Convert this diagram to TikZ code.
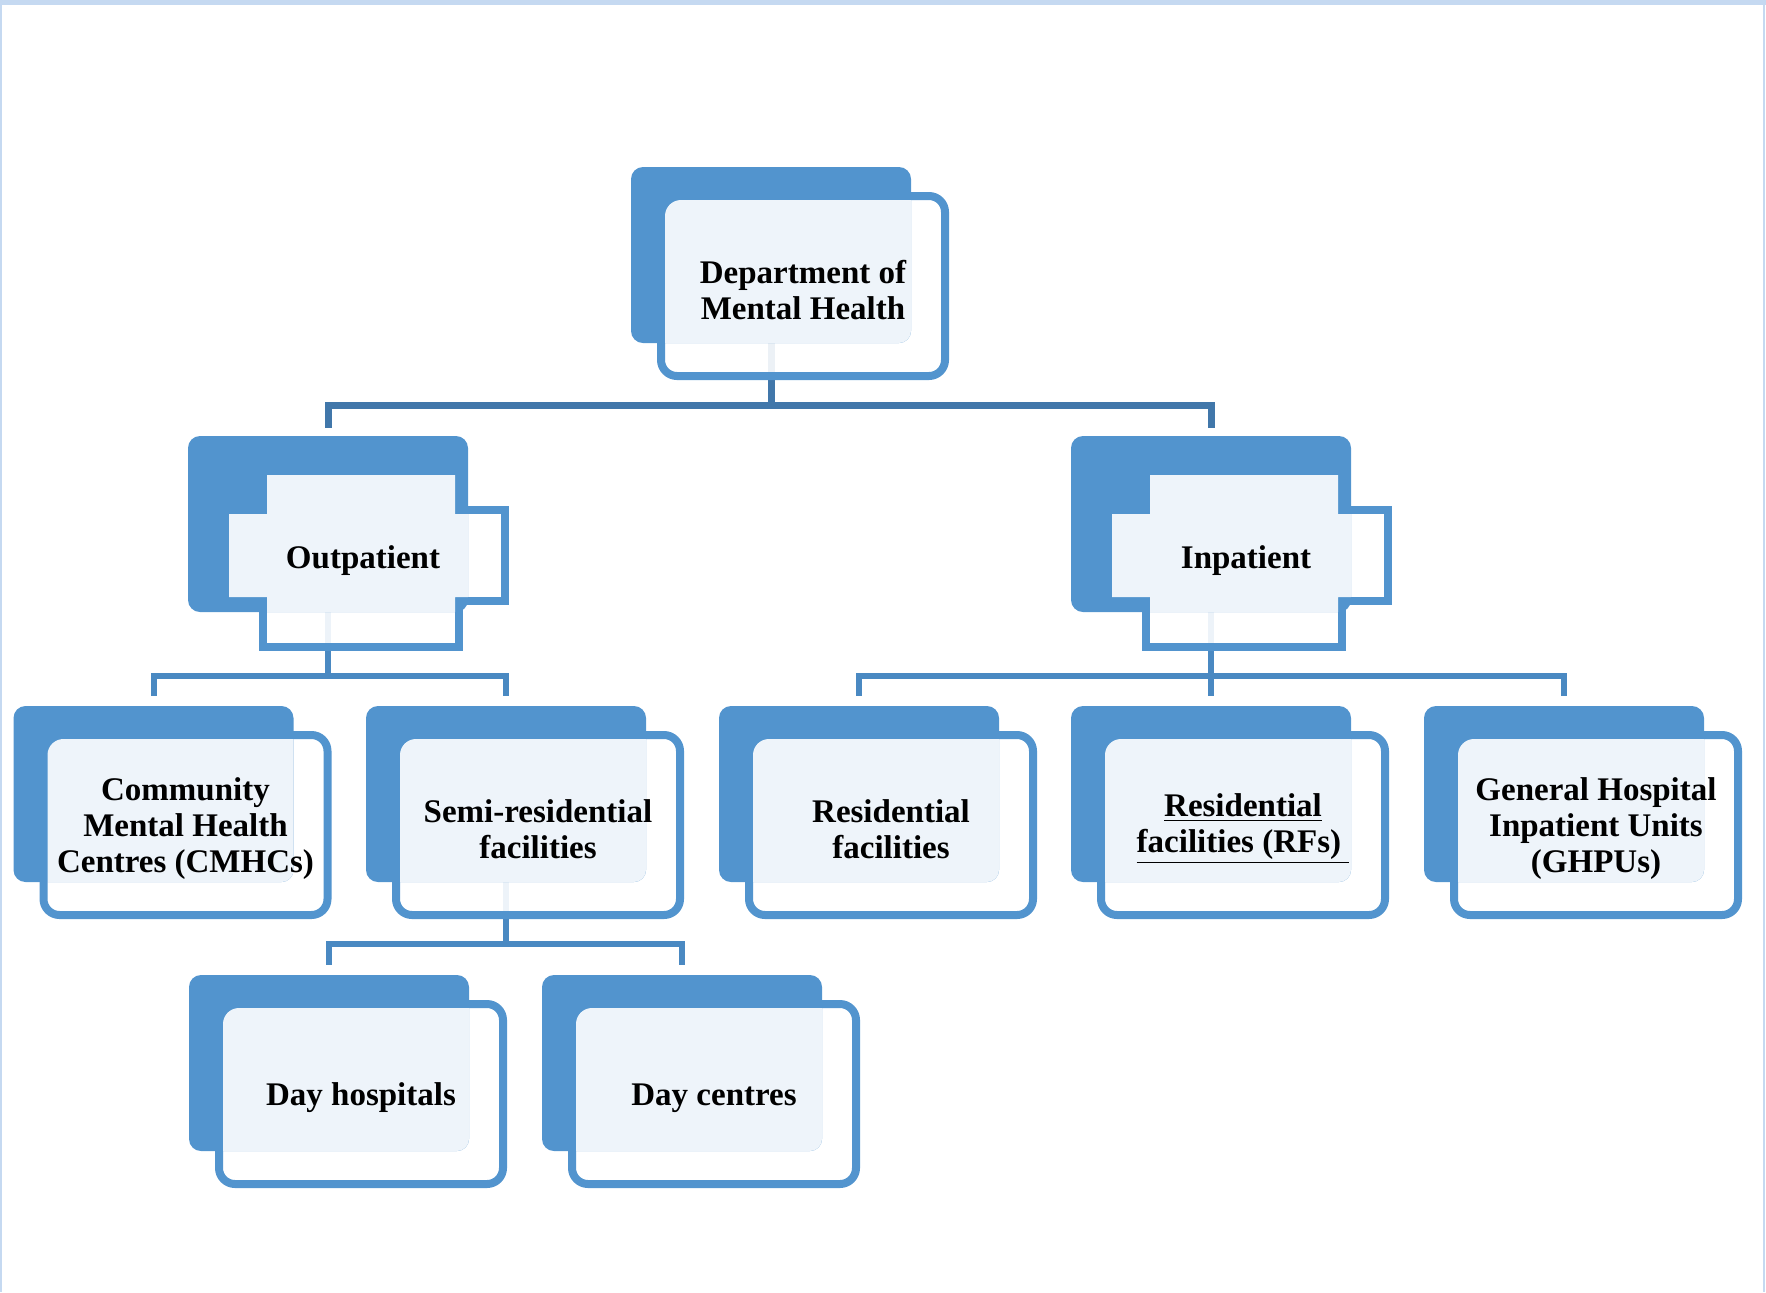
\documentclass[tikz,border=0pt]{standalone}
\usepackage{fontspec}
\setmainfont{Liberation Serif}
\usetikzlibrary{backgrounds}

\definecolor{boxblue}{HTML}{5294CE}
\definecolor{trunkblue}{HTML}{4177AA}
\definecolor{linkblue}{HTML}{4A89C2}
\definecolor{pageblue}{HTML}{C5D9F1}

\tikzset{
    backbox/.style={rectangle, rounded corners=6pt, fill=boxblue, minimum width=140pt, minimum height=88pt, inner sep=0pt},
    frontbox/.style={draw=boxblue, line width=4pt, fill=white, fill opacity=.9},
    hilite/.style={fill=white, fill opacity=.9},
    caption/.style={align=center, text=black, font=\bfseries\fontsize{16.5pt}{18pt}\selectfont},
    trunk/.style={draw=trunkblue, line width=3.5pt},
    link/.style={draw=linkblue, line width=3pt},
}

% name, left, top (of the filled box), text
\newcommand{\roundunit}[4]{%
    \path[frontbox, rounded corners=8pt] (#2+30,#3+29) rectangle (#2+314,#3+209);
    \node[backbox] (#1) at (#2+140,#3+88) {};
    \begin{scope}
        \clip[rounded corners=6pt] (#2,#3) rectangle (#2+280,#3+176);
        \path[hilite, rounded corners=8pt] (#2+34,#3+33) rectangle (#2+310,#3+205);
    \end{scope}
    \node[caption] (#1-t) at (#2+172,#3+123) {#4};
}
\newcommand{\crossunit}[4]{%
    \path[frontbox] (#2+75,#3+35) -- ++(196,0) -- ++(0,39) -- ++(46,0) -- ++(0,91) -- ++(-46,0)
        -- ++(0,46) -- ++(-196,0) -- ++(0,-46) -- ++(-38,0) -- ++(0,-91) -- ++(38,0) -- cycle;
    \node[backbox] (#1) at (#2+140,#3+88) {};
    \begin{scope}
        \clip[rounded corners=6pt] (#2,#3) rectangle (#2+280,#3+176);
        \path[hilite] (#2+79,#3+39) -- ++(188,0) -- ++(0,39) -- ++(46,0) -- ++(0,83) -- ++(-46,0)
            -- ++(0,46) -- ++(-188,0) -- ++(0,-46) -- ++(-38,0) -- ++(0,-83) -- ++(38,0) -- cycle;
    \end{scope}
    \node[caption] (#1-t) at (#2+175,#3+125) {#4};
}

\begin{document}
\begin{tikzpicture}[x=0.5pt, y=-0.5pt]
    \useasboundingbox (0,0) rectangle (1766,1292);
    \fill[pageblue] (0,0) rectangle (1766,5);
    \fill[pageblue] (0,0) rectangle (2,1292);
    \fill[pageblue] (1763,0) rectangle (1765,1292);

    \roundunit{dmh}{631}{167}{Department of\\Mental Health}

    \crossunit{out}{188}{436}{Outpatient}
    \crossunit{inp}{1071}{436}{Inpatient}

    \roundunit{cmh}{13.5}{706}{Community\\Mental Health\\Centres (CMHCs)}
    \roundunit{sem}{366}{706}{Semi-residential\\facilities}
    \roundunit{res}{719}{706}{Residential\\facilities}
    \roundunit{rfs}{1071}{706}{\underline{Residential}\\\underline{facilities (RFs)\ }}
    \roundunit{ghp}{1424}{706}{General Hospital\\Inpatient Units\\(GHPUs)}

    \roundunit{dho}{189}{975}{Day hospitals}
    \roundunit{dce}{542}{975}{Day centres}

    \coordinate (bus1) at (0,405);
    \coordinate (bus2) at (0,676);
    \coordinate (bus3) at (0,944);

    \begin{scope}[on background layer]
        \draw[trunk] (dmh.center) -- (dmh.center |- bus1);
        \draw[trunk, shorten <=4pt, shorten >=4pt] (out.north) |- (dmh.center |- bus1) -| (inp.north);

        \draw[link] (out.center) -- (out.center |- bus2);
        \draw[link, shorten <=5pt, shorten >=5pt] (cmh.north) |- (out.center |- bus2) -| (sem.north);
        \draw[link, shorten <=5pt] (rfs.north) -- (inp.center);
        \draw[link, shorten <=5pt, shorten >=5pt] (res.north) |- (rfs.north |- bus2) -| (ghp.north);

        \draw[link] (sem.center) -- (sem.center |- bus3);
        \draw[link, shorten <=5pt, shorten >=5pt] (dho.north) |- (sem.center |- bus3) -| (dce.north);
    \end{scope}
\end{tikzpicture}
\end{document}
